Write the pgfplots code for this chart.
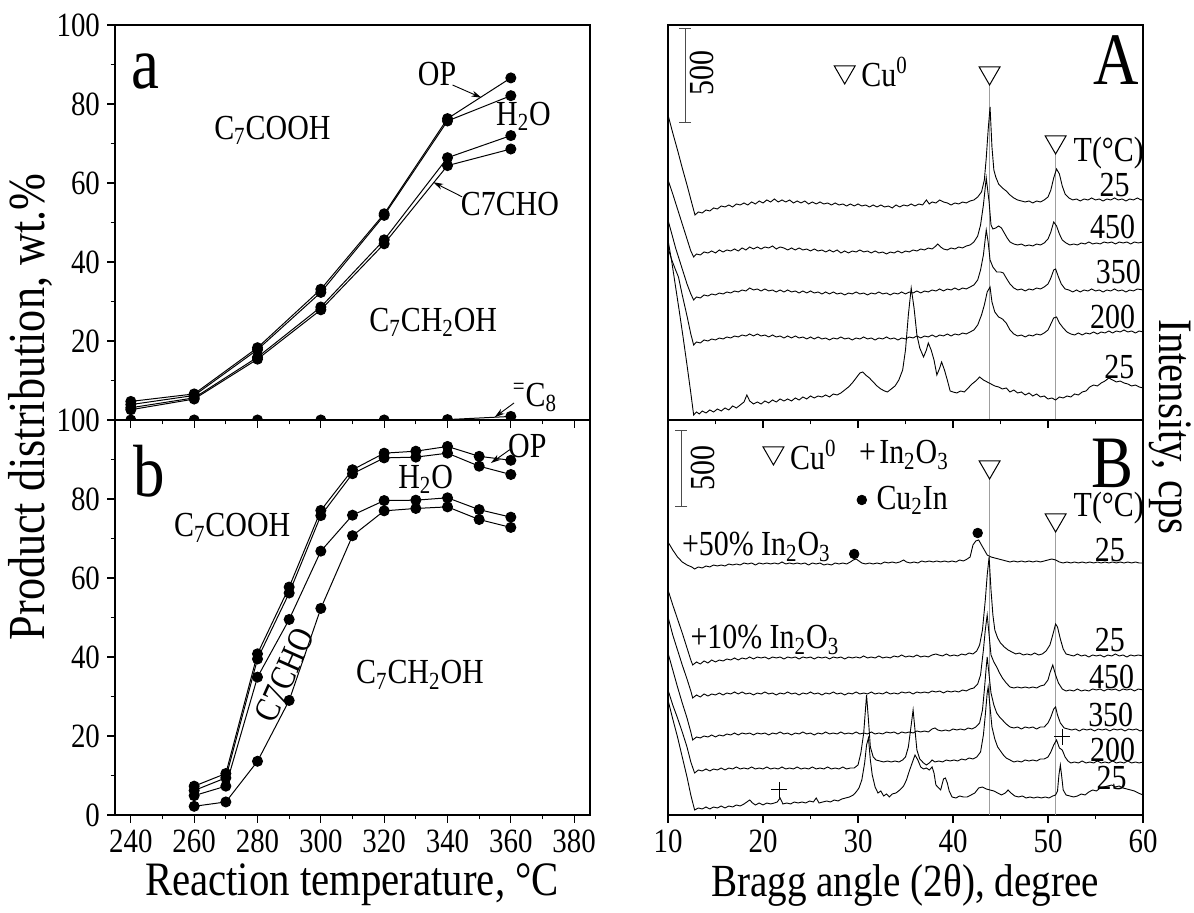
\documentclass[border=0pt]{standalone}
\usepackage{fontspec}
\setmainfont{Liberation Serif}[FakeStretch=0.85]
\usepackage{pgfplots}
\pgfplotsset{compat=1.18}
\usetikzlibrary{arrows.meta}

\newcommand{\fs}[1]{\fontsize{#1}{#1}\selectfont}

\tikzset{
  arr/.style={black, line width=0.45pt, -{Stealth[length=5pt,width=3pt]}},
  sbar/.style={gray!60!black, line width=0.6pt, {Bar[width=6pt]}-{Bar[width=6pt]}},
  lab/.style={font=\fs{17.6}},
  big/.style={font=\fs{37}},
}
\pgfplotsset{
  base/.style={scale only axis, width=237.5pt, height=197.5pt, anchor=south west,
    axis line style={line width=0.7pt}, tick style={black, line width=0.6pt},
    tick align=outside, major tick length=4pt, minor tick length=2.2pt,
    xtick pos=bottom, ytick pos=left,
    /pgf/number format/assume math mode=true,
    xticklabel={\fs{17}\pgfmathprintnumber{\tick}},
    yticklabel={\fs{17}\pgfmathprintnumber{\tick}},
    clip mode=individual, clip marker paths=true},
  lp/.style={base, xmin=235, xmax=385, ymin=0, ymax=100, xtick={240,260,...,380},
    minor x tick num=1, minor ytick={10,30,50,70,90}},
  rp/.style={base, xmin=10, xmax=60, ymin=0, ymax=395, xtick={10,20,...,60},
    minor x tick num=1, ytick=\empty},
  dl/.style={black, line width=0.5pt, mark=*, mark size=2.5pt},
  xr/.style={black, line width=0.45pt},
  vl/.style={gray!75, line width=0.6pt},
  tri/.style={only marks, mark=triangle, mark size=6pt,
    mark options={rotate=180, fill=white, draw=black, line width=0.5pt}},
}

\begin{document}
\begin{tikzpicture}[font=\fs{17.6}]
\useasboundingbox (0,0) rectangle (597pt,456.5pt);

% ---------- panel a ----------
\begin{axis}[lp, at={(57.5pt,246.5pt)}, xticklabels={}, ytick={20,40,...,100}]
\addplot[dl] coordinates {(240,4.7)(260,6.6)(280,18.3)(300,33.1)(320,52.2)(340,76.3)(360,86.6)};
\addplot[dl] coordinates {(240,3.9)(260,6.2)(280,17.8)(300,32.3)(320,51.8)(340,75.7)(360,82.1)};
\addplot[dl] coordinates {(240,3.1)(260,5.6)(280,15.9)(300,28.6)(320,45.6)(340,66.4)(360,72.0)};
\addplot[dl] coordinates {(240,2.6)(260,5.3)(280,15.4)(300,27.9)(320,44.6)(340,64.4)(360,68.6)};
\addplot[dl] coordinates {(240,0)(260,0)(280,0)(300,0)(320,0)(340,0.1)(360,0.9)};
\node[big] at (axis cs:244.7,88.2) {a};
\node[lab] at (axis cs:336.7,87.6) {OP};
\draw[arr] (axis cs:341.6,84.8) -- (axis cs:350.7,81.6);
\node[lab] at (axis cs:364,76.8) {H\textsubscript{2}O};
\node[lab] at (axis cs:284.7,73.4) {C\textsubscript{7}COOH};
\node[lab] at (axis cs:359.7,54.8) {C7CHO};
\draw[arr] (axis cs:344.6,56.5) -- (axis cs:335.5,60.2);
\node[lab] at (axis cs:335.5,24.8) {C\textsubscript{7}CH\textsubscript{2}OH};
\node[lab] at (axis cs:367.6,5.7) {\textsuperscript{=}C\textsubscript{8}};
\draw[arr] (axis cs:361,4.3) -- (axis cs:354.9,0.7);
\end{axis}

% ---------- panel b ----------
\begin{axis}[lp, at={(57.5pt,49pt)}, ytick={0,20,...,100}]
\addplot[dl] coordinates {(260,7.3)(270,10.5)(280,40.8)(290,57.7)(300,77.1)(310,87.4)(320,91.6)(330,92.1)(340,93.3)(350,90.8)(360,89.8)};
\addplot[dl] coordinates {(260,6.2)(270,9.4)(280,39.5)(290,56.2)(300,75.8)(310,86.4)(320,90.4)(330,90.6)(340,91.6)(350,88.3)(360,86.2)};
\addplot[dl] coordinates {(260,4.9)(270,7.3)(280,34.9)(290,49.5)(300,66.8)(310,75.9)(320,79.6)(330,79.7)(340,80.3)(350,77.3)(360,75.4)};
\addplot[dl] coordinates {(260,2.2)(270,3.3)(280,13.6)(290,29.0)(300,52.3)(310,70.7)(320,77.0)(330,77.6)(340,78.0)(350,74.8)(360,72.8)};
\node[big] at (axis cs:245.9,87.0) {b};
\node[lab] at (axis cs:365.2,93.3) {OP};
\draw[arr] (axis cs:359.7,92.5) -- (axis cs:353.7,89.1);
\node[lab] at (axis cs:333.1,84.9) {H\textsubscript{2}O};
\node[lab] at (axis cs:272,72.7) {C\textsubscript{7}COOH};
\node[lab, rotate=66] at (axis cs:288.5,35.5) {C7CHO};
\node[lab] at (axis cs:331.3,35.5) {C\textsubscript{7}CH\textsubscript{2}OH};
\end{axis}

% ---------- panel A ----------
\begin{axis}[rp, at={(334pt,246.5pt)}, xticklabels={}]
\addplot[vl] coordinates {(43.85,0)(43.85,336)};
\addplot[vl] coordinates {(50.8,0)(50.8,266)};
\addplot[tri] coordinates {(28.6,348)(43.85,347)(50.8,278)};
% 25 C (top)
\addplot[xr] coordinates {(10,305)(10.5,287)(11,270)(11.5,252)(12,235)(12.5,217)(12.84,205)(13.2,208)(13.6,207)(14,210)(14.4,209)(14.8,212)(15.2,211)(15.6,214)(16,213)(16.4,215)(16.8,213)(17.2,216)(17.6,215)(18,217)(18.4,215)(18.8,218)(19.2,216)(19.6,219)(20,217)(20.4,220)(20.8,218)(21.2,221)(21.6,218)(22,220)(22.4,218)(22.8,220)(23.2,217)(23.6,219)(24,217)(24.4,219)(24.8,216)(25.2,218)(25.6,216)(26,218)(26.4,216)(26.8,217)(27.2,215)(27.6,217)(28,215)(28.4,216)(28.8,214)(29.2,216)(29.6,214)(30,216)(30.4,214)(30.8,215)(31.2,213)(31.6,215)(32,213)(32.4,215)(32.8,213)(33.2,214)(33.6,212)(34,215)(34.4,213)(34.8,215)(35.2,214)(35.6,216)(36,214)(36.4,216)(36.8,215)(37.2,220)(37.5,216)(37.8,218)(38.2,217)(38.6,220)(39,218)(39.4,217)(39.8,215)(40.2,217)(40.6,216)(41,218)(41.4,217)(41.8,219)(42.2,220)(42.6,223)(43,228)(43.3,240)(43.5,262)(43.7,290)(43.9,313)(44.1,273)(44.3,250)(44.5,243)(44.8,236)(45.2,232)(45.6,229)(46,225)(46.4,222)(46.8,220)(47.2,219)(47.6,218)(48,219)(48.4,217)(48.8,219)(49.2,218)(49.6,220)(50,223)(50.3,230)(50.6,242)(50.9,251)(51.2,246)(51.5,234)(51.8,226)(52.2,222)(52.6,220)(53,221)(53.4,219)(53.8,221)(54.2,220)(54.6,222)(55,220)(55.4,221)(55.8,219)(56.2,221)(56.6,220)(57,222)(57.4,220)(57.8,221)(58.2,219)(58.6,221)(59,220)(59.4,222)(59.8,220)(60,221)};
% 450 C
\addplot[xr] coordinates {(10,240)(10.5,226)(11,211)(11.5,196)(12,181)(12.4,169)(12.7,163)(13,166)(13.4,165)(13.8,168)(14.2,167)(14.6,169)(15,167)(15.4,170)(15.8,168)(16.2,170)(16.6,169)(17,171)(17.4,169)(17.8,172)(18.2,170)(18.6,173)(19,171)(19.4,173)(19.8,171)(20.2,173)(20.6,172)(21,174)(21.4,171)(21.8,173)(22.2,172)(22.6,170)(23,172)(23.4,170)(23.8,172)(24.2,170)(24.6,171)(25,169)(25.4,171)(25.8,169)(26.2,170)(26.6,168)(27,170)(27.4,168)(27.8,170)(28.2,167)(28.6,169)(29,167)(29.4,169)(29.8,168)(30.2,170)(30.6,168)(31,169)(31.4,167)(31.8,169)(32.2,167)(32.6,168)(33,166)(33.4,168)(33.8,167)(34.2,169)(34.6,167)(35,169)(35.4,168)(35.8,170)(36.2,169)(36.6,171)(37,170)(37.4,172)(37.8,171)(38.2,174)(38.4,176)(38.7,173)(39,171)(39.4,170)(39.8,172)(40.2,171)(40.6,173)(41,172)(41.4,174)(41.8,175)(42.2,178)(42.6,184)(42.9,195)(43.2,215)(43.5,242)(43.8,218)(44.0,195)(44.2,191)(44.5,192)(44.8,194)(45.1,192)(45.4,187)(45.7,182)(46,178)(46.4,176)(46.8,175)(47.2,176)(47.6,174)(48,175)(48.4,174)(48.8,176)(49.2,175)(49.6,177)(50,181)(50.3,188)(50.6,198)(50.9,194)(51.2,186)(51.5,180)(51.9,177)(52.3,175)(52.7,176)(53.1,175)(53.5,177)(53.9,176)(54.3,178)(54.7,176)(55.1,177)(55.5,176)(55.9,178)(56.3,177)(56.7,178)(57.1,176)(57.5,178)(57.9,177)(58.3,178)(58.7,176)(59.1,178)(59.5,177)(60,178)};
% 350 C
\addplot[xr] coordinates {(10,200)(10.4,186)(10.8,172)(11.2,160)(11.6,148)(12,136)(12.4,126)(12.7,120)(13,123)(13.4,122)(13.8,125)(14.2,124)(14.6,126)(15,125)(15.4,127)(15.8,126)(16.2,128)(16.6,127)(17,129)(17.4,128)(17.8,130)(18.2,129)(18.6,132)(19,130)(19.4,131)(19.8,129)(20.2,131)(20.6,129)(21,130)(21.4,128)(21.8,130)(22.2,128)(22.6,130)(23,128)(23.4,129)(23.8,127)(24.2,129)(24.6,127)(25,129)(25.4,127)(25.8,128)(26.2,126)(26.6,128)(27,126)(27.4,128)(27.8,126)(28.2,127)(28.6,125)(29,127)(29.4,126)(29.8,128)(30.2,126)(30.6,127)(31,125)(31.4,127)(31.8,126)(32.2,128)(32.6,126)(33,127)(33.4,125)(33.8,127)(34.2,126)(34.6,128)(35,126)(35.4,128)(35.8,127)(36.2,129)(36.6,127)(37,129)(37.4,128)(37.8,130)(38.2,129)(38.6,131)(39,129)(39.4,131)(39.8,130)(40.2,132)(40.6,130)(41,132)(41.4,131)(41.8,133)(42.2,135)(42.6,140)(42.9,150)(43.2,165)(43.5,190)(43.7,178)(43.9,160)(44.2,153)(44.6,148)(45,148)(45.3,147)(45.6,142)(46,136)(46.4,132)(46.8,130)(47.2,131)(47.6,129)(48,131)(48.4,130)(48.8,132)(49.2,131)(49.6,133)(50,136)(50.3,142)(50.6,150)(50.8,151)(51.1,143)(51.4,136)(51.8,131)(52.2,130)(52.6,128)(53,130)(53.4,128)(53.8,130)(54.2,129)(54.6,131)(55,129)(55.4,130)(55.8,128)(56.2,130)(56.6,129)(57,131)(57.4,129)(57.8,130)(58.2,128)(58.6,130)(59,129)(59.4,131)(60,130)};
% 200 C
\addplot[xr] coordinates {(10,172)(10.4,160)(10.8,150)(11.1,143)(11.5,125)(12,104)(12.4,86)(12.7,75)(13,78)(13.4,77)(13.8,80)(14.2,79)(14.6,81)(15,80)(15.4,82)(15.8,81)(16.2,83)(16.6,82)(17,84)(17.4,83)(17.8,85)(18.2,84)(18.6,86)(19,84)(19.4,86)(19.8,84)(20.2,85)(20.6,83)(21,85)(21.4,83)(21.8,84)(22.2,82)(22.6,84)(23,82)(23.4,84)(23.8,82)(24.2,83)(24.6,81)(25,83)(25.4,81)(25.8,83)(26.2,81)(26.6,82)(27,80)(27.4,82)(27.8,81)(28.2,83)(28.6,81)(29,82)(29.4,80)(29.8,82)(30.2,81)(30.6,83)(31,81)(31.4,82)(31.8,80)(32.2,82)(32.6,81)(33,83)(33.4,81)(33.8,82)(34.2,80)(34.6,82)(35,81)(35.4,83)(35.8,82)(36.2,84)(36.6,82)(37,84)(37.4,83)(37.8,85)(38.2,83)(38.6,85)(39,84)(39.4,86)(39.8,84)(40.2,86)(40.6,85)(41,87)(41.4,86)(41.8,88)(42.2,90)(42.6,95)(43,105)(43.3,115)(43.6,128)(43.9,133)(44.1,118)(44.4,108)(44.8,103)(45.2,101)(45.6,97)(46,90)(46.4,86)(46.8,84)(47.2,85)(47.6,83)(48,85)(48.4,84)(48.8,86)(49.2,85)(49.6,87)(50,90)(50.3,96)(50.6,102)(50.9,103)(51.2,97)(51.6,92)(52,88)(52.4,86)(52.8,85)(53.2,87)(53.6,85)(54,87)(54.4,86)(54.8,88)(55.2,86)(55.6,88)(56,87)(56.4,89)(56.8,87)(57.2,89)(57.6,88)(58,90)(58.4,88)(58.8,89)(59.2,87)(59.6,89)(60,88)};
% 25 C (bottom)
\addplot[xr] coordinates {(10,180)(10.4,158)(10.8,133)(11.2,108)(11.6,82)(12,55)(12.4,27)(12.7,5)(13,8)(13.3,6)(13.6,9)(14,7)(14.4,10)(14.8,8)(15.2,11)(15.6,9)(16,12)(16.4,10)(16.8,14)(17.2,12)(17.6,15)(18,18)(18.3,25)(18.6,19)(19,16)(19.4,18)(19.8,16)(20.2,19)(20.6,17)(21,20)(21.4,18)(21.8,21)(22.2,19)(22.6,21)(23,19)(23.4,22)(23.8,20)(24.2,23)(24.6,21)(25,24)(25.4,22)(25.8,24)(26.2,23)(26.6,25)(27,23)(27.4,26)(27.8,25)(28.2,27)(28.6,30)(29,33)(29.4,37)(29.8,42)(30.2,47)(30.5,48)(30.8,45)(31.2,42)(31.6,38)(32,34)(32.4,31)(32.8,29)(33.1,28)(33.5,31)(33.9,34)(34.3,40)(34.7,50)(35,70)(35.3,105)(35.6,132)(35.9,112)(36.2,85)(36.5,72)(36.9,63)(37.2,70)(37.4,77)(37.7,70)(38,60)(38.3,45)(38.6,52)(38.8,58)(39.1,50)(39.4,40)(39.7,29)(40,28)(40.4,27)(40.8,29)(41.2,28)(41.6,32)(42,36)(42.4,39)(42.8,43)(43.2,40)(43.6,38)(44,36)(44.4,34)(44.8,33)(45.2,31)(45.6,32)(46,28)(46.4,30)(46.8,27)(47.2,28)(47.6,25)(48,27)(48.4,24)(48.8,26)(49.2,23)(49.6,24)(50,21)(50.4,22)(50.8,20)(51.2,23)(51.6,22)(52,24)(52.4,23)(52.8,26)(53.2,25)(53.6,28)(54,29)(54.4,33)(54.8,35)(55.2,34)(55.6,37)(56,39)(56.4,42)(56.8,40)(57.2,38)(57.6,39)(58,37)(58.4,36)(58.8,34)(59.2,35)(59.6,33)(60,32)};
\node[lab] at (axis cs:32.8,348) {Cu\textsuperscript{0}};
\node[big] at (axis cs:57.2,360) {A};
\draw[sbar] (axis cs:11.8,297) -- (axis cs:11.8,392);
\node[lab, rotate=90] at (axis cs:13.6,347) {500};
\node[lab] at (axis cs:56.4,267) {T(°C)};
\node[lab] at (axis cs:57.0,235) {25};
\node[lab] at (axis cs:56.8,193) {450};
\node[lab] at (axis cs:57.4,148) {350};
\node[lab] at (axis cs:56.8,103) {200};
\node[lab] at (axis cs:57.5,53) {25};
\end{axis}

% ---------- panel B ----------
\begin{axis}[rp, at={(334pt,49pt)}]
\addplot[vl] coordinates {(43.85,0)(43.85,336)};
\addplot[vl] coordinates {(50.8,0)(50.8,283)};
\addplot[tri] coordinates {(21.1,362)(43.85,348)(50.8,295)};
\addplot[only marks, mark=*, mark size=2.4pt] coordinates {(30.4,315)(29.6,261)(42.6,282)};
\addplot[only marks, mark=+, mark size=4pt, black, line width=0.5pt] coordinates {(21.7,25)(51.5,78)};
% +50% In2O3, 25 C
\addplot[xr] coordinates {(10,273)(10.5,265)(11,258)(11.5,253)(12,250)(12.5,248)(12.8,246)(13.2,248)(13.6,247)(14,249)(14.4,248)(14.8,250)(15.2,249)(15.6,250)(16,249)(16.4,251)(16.8,250)(17.2,251)(17.6,250)(18,252)(18.4,251)(18.8,252)(19.2,250)(19.6,252)(20,251)(20.4,252)(20.8,251)(21.2,252)(21.6,251)(22,253)(22.4,251)(22.8,252)(23.2,251)(23.6,252)(24,251)(24.4,252)(24.8,250)(25.2,252)(25.6,251)(26,252)(26.4,250)(26.8,251)(27.2,250)(27.6,252)(28,251)(28.4,252)(28.8,251)(29.2,253)(29.5,255)(29.8,256)(30.1,254)(30.4,252)(30.8,251)(31.2,252)(31.6,251)(32,252)(32.4,251)(32.8,253)(33.2,252)(33.6,253)(34,252)(34.4,253)(34.8,255)(35.1,253)(35.5,252)(35.9,253)(36.3,252)(36.7,254)(37.1,253)(37.5,254)(37.9,253)(38.3,254)(38.7,253)(39.1,254)(39.5,253)(39.9,254)(40.3,253)(40.7,255)(41.1,254)(41.5,256)(41.8,258)(42.1,270)(42.4,274)(42.7,275)(43,270)(43.3,265)(43.6,260)(44,258)(44.4,257)(44.8,256)(45.2,255)(45.6,254)(46,253)(46.4,254)(46.8,253)(47.2,254)(47.6,253)(48,254)(48.4,253)(48.8,254)(49.2,253)(49.6,254)(50,255)(50.4,256)(50.8,255)(51.2,253)(51.6,252)(52,253)(52.4,252)(52.8,253)(53.2,252)(53.6,253)(54,252)(54.4,253)(54.8,252)(55.2,253)(55.6,252)(56,253)(56.4,252)(56.8,253)(57.2,252)(57.6,253)(58,252)(58.4,253)(58.8,252)(59.2,253)(59.6,252)(60,252)};
% +10% In2O3, 25 C
\addplot[xr] coordinates {(10,225)(10.5,210)(11,196)(11.5,182)(12,167)(12.4,155)(12.6,150)(13,153)(13.4,151)(13.8,154)(14.2,152)(14.6,155)(15,153)(15.4,155)(15.8,154)(16.2,156)(16.6,155)(17,157)(17.4,155)(17.8,157)(18.2,156)(18.6,158)(19,156)(19.4,158)(19.8,157)(20.2,158)(20.6,156)(21,158)(21.4,157)(21.8,158)(22.2,156)(22.6,158)(23,157)(23.4,158)(23.8,156)(24.2,158)(24.6,157)(25,158)(25.4,156)(25.8,158)(26.2,157)(26.6,158)(27,156)(27.4,158)(27.8,157)(28.2,158)(28.6,156)(29,158)(29.4,157)(29.8,158)(30.2,157)(30.6,159)(31,157)(31.4,158)(31.8,157)(32.2,159)(32.6,157)(33,158)(33.4,157)(33.8,159)(34.2,158)(34.6,160)(35,158)(35.4,159)(35.8,158)(36.2,160)(36.6,158)(37,159)(37.4,158)(37.8,160)(38.2,161)(38.5,160)(38.9,159)(39.3,161)(39.7,159)(40.1,160)(40.5,159)(40.9,161)(41.3,160)(41.7,162)(42.1,161)(42.5,164)(42.8,170)(43.1,185)(43.4,215)(43.6,240)(43.8,258)(44,225)(44.2,200)(44.4,185)(44.7,177)(45,172)(45.4,168)(45.8,165)(46.2,163)(46.6,161)(47,162)(47.4,160)(47.8,161)(48.2,160)(48.6,162)(49,160)(49.4,161)(49.8,164)(50.2,170)(50.5,180)(50.8,191)(51,188)(51.3,176)(51.6,166)(51.9,161)(52.3,160)(52.7,159)(53.1,161)(53.5,159)(53.9,160)(54.3,158)(54.7,160)(55.1,159)(55.5,160)(55.9,158)(56.3,160)(56.7,159)(57.1,161)(57.5,159)(57.9,160)(58.3,158)(58.7,160)(59.1,159)(59.5,160)(60,159)};
% 450 C
\addplot[xr] coordinates {(10,198)(10.5,180)(11,165)(11.5,150)(12,136)(12.4,124)(12.6,117)(13,120)(13.4,118)(13.8,121)(14.2,119)(14.6,121)(15,120)(15.4,122)(15.8,120)(16.2,122)(16.6,121)(17,123)(17.4,121)(17.8,123)(18.2,121)(18.6,122)(19,120)(19.4,122)(19.8,121)(20.2,123)(20.6,121)(21,122)(21.4,120)(21.8,122)(22.2,121)(22.6,123)(23,121)(23.4,122)(23.8,120)(24.2,122)(24.6,121)(25,123)(25.4,121)(25.8,122)(26.2,120)(26.6,122)(27,121)(27.4,123)(27.8,121)(28.2,122)(28.6,120)(29,122)(29.4,121)(29.8,123)(30.2,121)(30.6,122)(31,121)(31.4,123)(31.8,121)(32.2,122)(32.6,121)(33,123)(33.4,121)(33.8,122)(34.2,121)(34.6,123)(35,122)(35.4,123)(35.8,121)(36.2,123)(36.6,122)(37,123)(37.4,122)(37.8,124)(38.2,123)(38.6,124)(39,122)(39.4,124)(39.8,123)(40.2,124)(40.6,123)(41,125)(41.4,124)(41.8,126)(42.2,127)(42.6,131)(42.9,140)(43.2,165)(43.4,185)(43.6,200)(43.8,180)(44,160)(44.3,153)(44.6,148)(44.9,142)(45.2,137)(45.6,132)(46,128)(46.4,127)(46.8,128)(47.2,127)(47.6,128)(48,127)(48.4,128)(48.8,127)(49.2,129)(49.6,130)(50,135)(50.2,142)(50.5,150)(50.8,140)(51.1,132)(51.5,126)(51.9,124)(52.3,125)(52.7,124)(53.1,126)(53.5,124)(53.9,125)(54.3,124)(54.7,126)(55.1,125)(55.5,126)(55.9,124)(56.3,126)(56.7,125)(57.1,126)(57.5,124)(57.9,126)(58.3,125)(58.7,126)(59.1,124)(59.5,126)(60,125)};
% 350 C
\addplot[xr] coordinates {(10,162)(10.5,145)(11,128)(11.5,112)(12,97)(12.4,83)(12.6,75)(13,78)(13.4,77)(13.8,79)(14.2,78)(14.6,80)(15,78)(15.4,80)(15.8,79)(16.2,81)(16.6,80)(17,82)(17.4,80)(17.8,82)(18.2,81)(18.6,82)(19,80)(19.4,82)(19.8,81)(20.2,82)(20.6,80)(21,82)(21.4,81)(21.8,83)(22.2,81)(22.6,82)(23,80)(23.4,82)(23.8,81)(24.2,83)(24.6,81)(25,82)(25.4,80)(25.8,82)(26.2,81)(26.6,83)(27,81)(27.4,82)(27.8,81)(28.2,83)(28.6,81)(29,82)(29.4,81)(29.8,83)(30.2,81)(30.6,82)(31,81)(31.4,83)(31.8,81)(32.2,82)(32.6,81)(33,83)(33.4,82)(33.8,83)(34.2,81)(34.6,83)(35,82)(35.4,83)(35.8,82)(36.2,84)(36.6,83)(37,84)(37.4,83)(37.8,86)(38.1,87)(38.4,85)(38.8,84)(39.2,85)(39.6,84)(40,86)(40.4,85)(40.8,86)(41.2,85)(41.6,87)(42,86)(42.4,88)(42.8,92)(43.1,105)(43.3,125)(43.5,148)(43.6,158)(43.8,140)(44,122)(44.3,110)(44.6,102)(44.9,98)(45.2,95)(45.6,91)(46,88)(46.4,87)(46.8,88)(47.2,86)(47.6,88)(48,87)(48.4,88)(48.8,86)(49.2,88)(49.6,88)(50,92)(50.3,98)(50.6,106)(50.8,108)(51,100)(51.3,92)(51.7,87)(52.1,86)(52.5,85)(52.9,86)(53.3,84)(53.7,86)(54.1,85)(54.5,86)(54.9,84)(55.3,86)(55.7,85)(56.1,86)(56.5,84)(56.9,86)(57.3,85)(57.7,86)(58.1,84)(58.5,86)(58.9,85)(59.3,86)(59.7,84)(60,85)};
% 200 C
\addplot[xr] coordinates {(10,125)(10.5,110)(11,97)(11.5,83)(12,68)(12.4,53)(12.8,42)(13.2,45)(13.6,44)(14,46)(14.4,44)(14.8,46)(15.2,45)(15.6,47)(16,45)(16.4,47)(16.8,46)(17.2,48)(17.6,46)(18,47)(18.4,46)(18.8,48)(19.2,46)(19.6,47)(20,46)(20.4,48)(20.8,46)(21.2,47)(21.6,46)(22,48)(22.4,46)(22.8,47)(23.2,46)(23.6,48)(24,46)(24.4,47)(24.8,46)(25.2,48)(25.6,46)(26,47)(26.4,46)(26.8,48)(27.2,46)(27.6,47)(28,46)(28.4,48)(28.8,46)(29.2,47)(29.6,47)(30,50)(30.3,62)(30.6,82)(30.9,120)(31.1,95)(31.3,68)(31.6,58)(31.9,55)(32.3,54)(32.7,53)(33.1,54)(33.5,53)(33.9,54)(34.3,53)(34.7,55)(35,58)(35.3,68)(35.6,90)(35.8,105)(36,85)(36.2,65)(36.5,56)(36.9,52)(37.2,50)(37.5,52)(37.8,55)(38.1,53)(38.5,54)(38.9,53)(39.3,55)(39.7,54)(40.1,55)(40.5,54)(40.9,56)(41.3,55)(41.7,57)(42.1,56)(42.5,58)(42.9,63)(43.2,80)(43.4,100)(43.6,122)(43.7,128)(43.9,108)(44.1,88)(44.4,76)(44.7,68)(45,64)(45.3,60)(45.6,57)(46,55)(46.4,53)(46.8,54)(47.2,53)(47.6,55)(48,54)(48.4,55)(48.8,54)(49.2,56)(49.6,56)(50,58)(50.3,63)(50.6,70)(50.9,75)(51.2,67)(51.5,65)(51.8,58)(52.1,54)(52.4,52)(52.8,53)(53.2,52)(53.6,54)(54,52)(54.4,53)(54.8,52)(55.2,54)(55.6,52)(56,53)(56.4,52)(56.8,54)(57.2,52)(57.6,53)(58,52)(58.4,54)(58.8,52)(59.2,53)(59.6,52)(60,53)};
% 25 C (bottom)
\addplot[xr] coordinates {(10,115)(10.5,96)(11,78)(11.5,58)(12,38)(12.4,20)(12.8,5)(13.2,7)(13.6,6)(14,8)(14.4,6)(14.8,8)(15.2,7)(15.6,9)(16,7)(16.4,9)(16.8,8)(17.2,10)(17.6,9)(18,11)(18.3,13)(18.6,15)(18.9,12)(19.2,10)(19.6,12)(20,10)(20.4,12)(20.8,11)(21.2,12)(21.5,13)(21.8,17)(22.1,11)(22.5,12)(22.9,11)(23.3,13)(23.7,12)(24.1,13)(24.5,12)(24.9,14)(25.3,13)(25.6,17)(25.9,12)(26.3,13)(26.7,14)(27.1,13)(27.5,15)(27.9,14)(28.3,16)(28.7,17)(29.1,18)(29.5,20)(29.8,23)(30.1,27)(30.4,35)(30.7,52)(30.9,70)(31.1,77)(31.3,55)(31.5,40)(31.8,28)(32.1,22)(32.4,24)(32.7,19)(33,21)(33.3,18)(33.6,21)(34,22)(34.4,25)(34.8,29)(35.1,35)(35.4,44)(35.7,52)(36,60)(36.3,55)(36.6,48)(36.9,46)(37.2,47)(37.5,45)(37.8,48)(38,42)(38.2,30)(38.5,27)(38.7,25)(39,36)(39.2,37)(39.4,32)(39.6,24)(39.9,18)(40.3,17)(40.7,19)(41.1,18)(41.5,18)(41.9,20)(42.3,22)(42.7,27)(43.1,28)(43.5,26)(43.9,25)(44.3,24)(44.7,22)(45.1,20)(45.5,22)(45.8,25)(46.1,22)(46.5,19)(46.9,18)(47.3,19)(47.7,17)(48.1,18)(48.5,17)(48.9,18)(49.3,17)(49.7,18)(50.1,17)(50.5,19)(50.8,20)(51,24)(51.15,40)(51.3,50)(51.45,38)(51.6,25)(51.9,20)(52.3,19)(52.7,18)(53.1,19)(53.5,21)(53.9,20)(54.3,23)(54.7,25)(55.1,24)(55.5,27)(55.9,28)(56.3,29)(56.7,30)(57.1,28)(57.5,29)(57.9,27)(58.3,26)(58.7,25)(59.1,24)(59.5,22)(60,20)};
\node[lab] at (axis cs:25.3,360) {Cu\textsuperscript{0}};
\node[lab] at (axis cs:31.0,361) {+};
\node[lab] at (axis cs:35.9,360) {In\textsubscript{2}O\textsubscript{3}};
\node[lab] at (axis cs:35.7,315) {Cu\textsubscript{2}In};
\node[big] at (axis cs:56.8,352) {B};
\draw[sbar] (axis cs:11.4,308) -- (axis cs:11.4,385);
\node[lab, rotate=90] at (axis cs:13.7,347) {500};
\node[lab] at (axis cs:56.4,307) {T(°C)};
\node[lab] at (axis cs:19.3,268) {+50\% In\textsubscript{2}O\textsubscript{3}};
\node[lab] at (axis cs:20.2,175) {+10\% In\textsubscript{2}O\textsubscript{3}};
\node[lab] at (axis cs:56.5,265) {25};
\node[lab] at (axis cs:56.5,175) {25};
\node[lab] at (axis cs:56.7,138) {450};
\node[lab] at (axis cs:56.6,100) {350};
\node[lab] at (axis cs:56.8,65) {200};
\node[lab] at (axis cs:56.7,37) {25};
\end{axis}

% ---------- outer labels ----------
\node at (176pt,14pt) {\fs{24}Reaction temperature, °C};
\node at (452.5pt,14pt) {\fs{23}Bragg angle (2θ), degree};
\node[rotate=90] at (15pt,253pt) {\fs{26}Product distribution, wt.\%};
\node[rotate=-90] at (585pt,243pt) {\fs{24}Intensity, cps};
\end{tikzpicture}
\end{document}
